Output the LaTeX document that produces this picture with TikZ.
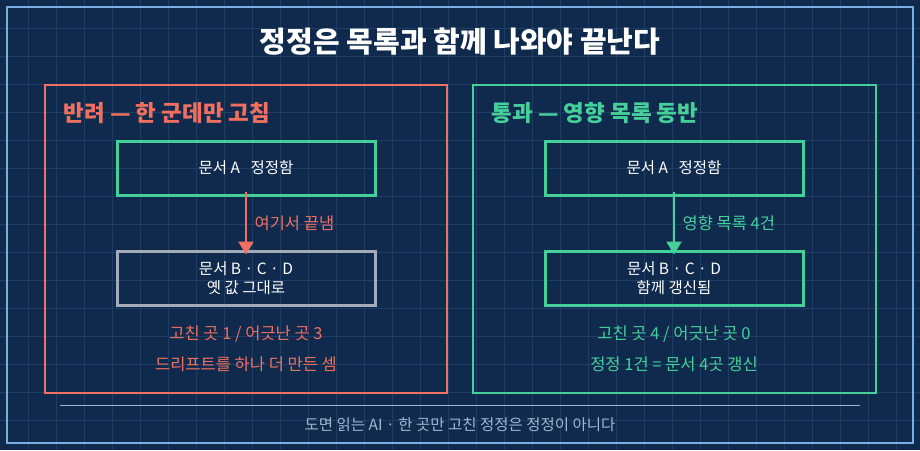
\documentclass[tikz,border=0pt]{standalone}
\usepackage{fontspec}
\setmainfont{Noto Sans CJK KR}
\usetikzlibrary{arrows.meta,positioning}
\definecolor{bgnavy}{HTML}{0F2A4D}
\definecolor{gridline}{HTML}{1E3E66}
\definecolor{frameblue}{HTML}{7AAEE0}
\definecolor{redline}{HTML}{F07060}
\definecolor{greenline}{HTML}{45D09A}
\definecolor{grayline}{HTML}{A3AAB8}
\definecolor{foottext}{HTML}{9FB6D0}
\tikzset{
  doc/.style={draw=#1, line width=3pt, minimum width=258pt, minimum height=54pt, text=white, font=\fontsize{15.5}{19}\selectfont, align=center},
  panel/.style={draw, line width=2pt},
  flow/.style={line width=2.5pt, -{Triangle[width=15pt,length=13pt]}},
  note/.style={font=\fontsize{16.5}{20}\selectfont},
  head/.style={font=\bfseries\fontsize{22.5}{26}\selectfont, anchor=west}
}
\begin{document}
\begin{tikzpicture}[x=1pt,y=-1pt]
\fill[bgnavy] (0,0) rectangle (920,450);
\useasboundingbox (0,0) rectangle (920,450);
\foreach \gx in {28,56,...,900} \draw[gridline, line width=0.8pt] (\gx,0) -- (\gx,450);
\foreach \gy in {28,56,...,440} \draw[gridline, line width=0.8pt] (0,\gy) -- (920,\gy);
\draw[frameblue, line width=2pt] (7,7) rectangle (913,443);
\node[text=white, font=\bfseries\fontsize{29}{33}\selectfont] (title) at (460,42) {정정은 목록과 함께 나와야 끝난다};
% reject side
\draw[panel, redline] (45,85) rectangle (447,393);
\node[head, text=redline] (rhead) at (60,113) {반려 — 한 군데만 고침};
\node[doc=greenline] (ra) at (246,168) {문서 A \ \ 정정함};
\node[doc=grayline] (rb) at (246,278) {문서 B · C · D\\옛 값 그대로};
\draw[flow, redline] ([yshift=5pt]ra.south) -- ([yshift=-5pt]rb.north) node[midway, right=4pt, note, text=redline] {여기서 끝냄};
\node[note, text=redline] (rsum1) at (246,334) {고친 곳 1 / 어긋난 곳 3};
\node[note, text=redline] (rsum2) at (246,364) {드리프트를 하나 더 만든 셈};
% pass side
\draw[panel, greenline] (473,85) rectangle (876,393);
\node[head, text=greenline] (phead) at (488,113) {통과 — 영향 목록 동반};
\node[doc=greenline] (pa) at (674,168) {문서 A \ \ 정정함};
\node[doc=greenline] (pb) at (674,278) {문서 B · C · D\\함께 갱신됨};
\draw[flow, greenline] ([yshift=5pt]pa.south) -- ([yshift=-5pt]pb.north) node[midway, right=4pt, note, text=greenline] {영향 목록 4건};
\node[note, text=greenline] (psum1) at (674,334) {고친 곳 4 / 어긋난 곳 0};
\node[note, text=greenline] (psum2) at (674,364) {정정 1건 = 문서 4곳 갱신};
% footer
\coordinate (sepl) at (60,405);
\coordinate (sepr) at (860,405);
\draw[foottext, line width=1pt] (sepl) -- (sepr);
\node[note, text=foottext, font=\fontsize{15.5}{19}\selectfont] (foot) at (460,425) {도면 읽는 AI · 한 곳만 고친 정정은 정정이 아니다};
\end{tikzpicture}
\end{document}
